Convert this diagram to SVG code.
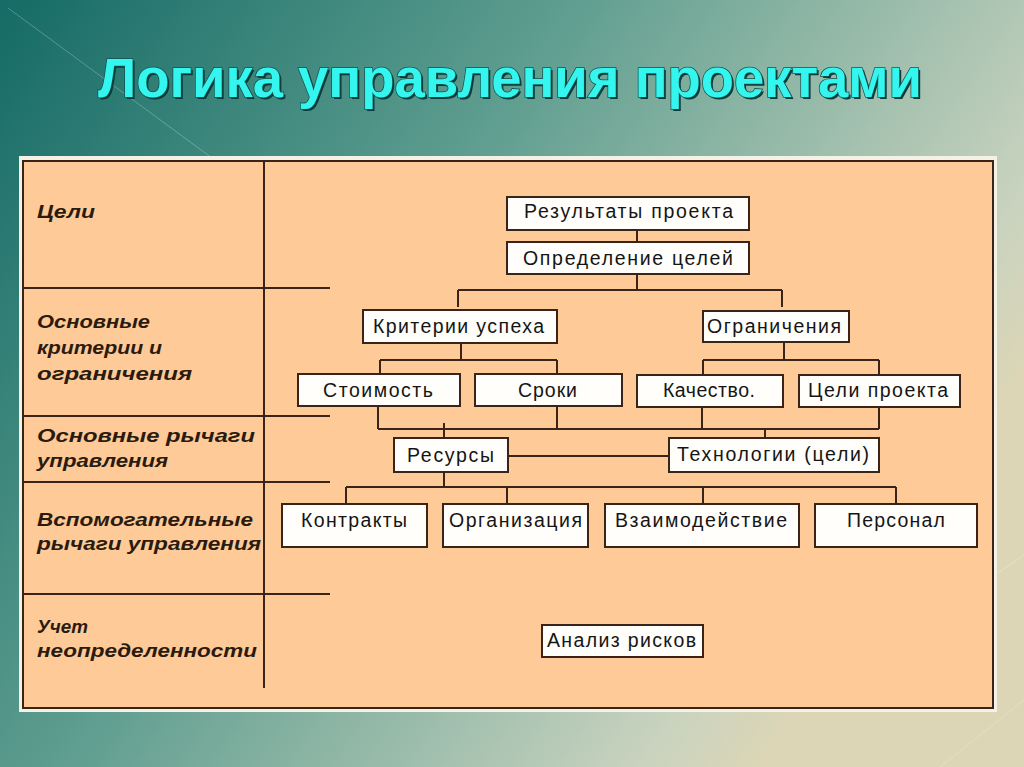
<svg xmlns="http://www.w3.org/2000/svg" width="1024" height="767" viewBox="0 0 1024 767">
<defs>
<linearGradient id="bg" x1="0" y1="0" x2="1" y2="0.5">
<stop offset="0" stop-color="#156b66"/>
<stop offset="0.45" stop-color="#5f9e90"/>
<stop offset="0.9" stop-color="#c9d3bf"/>
<stop offset="1" stop-color="#ddd6b6"/>
</linearGradient>
<style>
.lbl{font-family:"Liberation Sans",Arial,sans-serif;font-weight:bold;font-style:italic;font-size:18px;fill:#2b1a0e}
.box rect{fill:#fffefa;stroke:#3a2418;stroke-width:2}
.box text{font-family:"Liberation Sans",Arial,sans-serif;font-size:19.5px;fill:#151515}
.con path{fill:none;stroke:#3a2418;stroke-width:2}
.grid line{stroke:#3a2418;stroke-width:2}
.title{font-family:"Liberation Sans",Arial,sans-serif;font-weight:bold;font-size:56px}
</style>
</defs>
<rect x="0" y="0" width="1024" height="767" fill="url(#bg)"/>
<line x1="8" y1="8" x2="212" y2="158" stroke="#ffffff" stroke-opacity="0.25" stroke-width="1"/>
<line x1="995" y1="575" x2="1024" y2="555" stroke="#ffffff" stroke-opacity="0.25" stroke-width="1"/>
<line x1="940" y1="767" x2="1024" y2="700" stroke="#ffffff" stroke-opacity="0.2" stroke-width="1"/>

<g id="title">
<text class="title" x="100" y="99" textLength="824" lengthAdjust="spacingAndGlyphs" fill="#0b3a38">Логика управления проектами</text>
<text class="title" x="98" y="97" textLength="824" lengthAdjust="spacingAndGlyphs" fill="#34f6ee" stroke="#0e5552" stroke-width="1.5" paint-order="stroke">Логика управления проектами</text>
</g>

<g id="panel">
<rect x="19" y="156" width="978" height="556" fill="#f4f1e6"/>
<rect x="23" y="161" width="970" height="547" fill="#fdca98" stroke="#3a2418" stroke-width="2"/>
</g>

<g id="grid" class="grid">
<line x1="264" y1="161" x2="264" y2="688"/>
<line x1="23" y1="288" x2="330" y2="288"/>
<line x1="23" y1="416" x2="330" y2="416"/>
<line x1="23" y1="482" x2="330" y2="482"/>
<line x1="23" y1="594" x2="330" y2="594"/>
</g>

<g id="row-labels">
<text class="lbl" x="37" y="218" textLength="58" lengthAdjust="spacingAndGlyphs">Цели</text>
<text class="lbl" x="37" y="328" textLength="113" lengthAdjust="spacingAndGlyphs">Основные</text>
<text class="lbl" x="37" y="354" textLength="125" lengthAdjust="spacingAndGlyphs">критерии и</text>
<text class="lbl" x="37" y="380" textLength="155" lengthAdjust="spacingAndGlyphs">ограничения</text>
<text class="lbl" x="37" y="442" textLength="218" lengthAdjust="spacingAndGlyphs">Основные рычаги</text>
<text class="lbl" x="37" y="467" textLength="131" lengthAdjust="spacingAndGlyphs">управления</text>
<text class="lbl" x="37" y="526" textLength="216" lengthAdjust="spacingAndGlyphs">Вспомогательные</text>
<text class="lbl" x="37" y="550" textLength="224" lengthAdjust="spacingAndGlyphs">рычаги управления</text>
<text class="lbl" x="37" y="633" textLength="51" lengthAdjust="spacingAndGlyphs">Учет</text>
<text class="lbl" x="37" y="657" textLength="220" lengthAdjust="spacingAndGlyphs">неопределенности</text>
</g>

<g id="connectors" class="con">
<path d="M637 230 V242"/>
<path d="M637 273 V290 M458 290 H782 M458 290 V307 M782 290 V307"/>
<path d="M461 343 V360 M380 360 H557 M380 360 V374 M557 360 V374"/>
<path d="M784 342 V360 M703 360 H879 M703 360 V375 M879 360 V375"/>
<path d="M378 392 V429 M557 406 V429 M702 392 V429 M879 407 V429 M378 429 H879"/>
<path d="M444 423 V438 M765 429 V443"/>
<path d="M508 456 H669"/>
<path d="M444 472 V487 M346 487 H896 M346 487 V504 M507 487 V504 M703 487 V504 M896 487 V504"/>
</g>

<g id="n-results" class="box"><rect x="507" y="197" width="242" height="33"/><text x="524" y="218" textLength="209" lengthAdjust="spacing">Результаты проекта</text></g>
<g id="n-goals" class="box"><rect x="507" y="242" width="242" height="32"/><text x="523" y="265" textLength="210" lengthAdjust="spacing">Определение целей</text></g>
<g id="n-criteria" class="box"><rect x="363" y="310" width="194" height="33"/><text x="373" y="333" textLength="171" lengthAdjust="spacing">Критерии успеха</text></g>
<g id="n-limits" class="box"><rect x="703" y="311" width="146" height="31"/><text x="707" y="333" textLength="134" lengthAdjust="spacing">Ограничения</text></g>
<g id="n-cost" class="box"><rect x="298" y="374" width="162" height="32"/><text x="323" y="397" textLength="110" lengthAdjust="spacing">Стоимость</text></g>
<g id="n-terms" class="box"><rect x="475" y="374" width="147" height="32"/><text x="518" y="397" textLength="59" lengthAdjust="spacing">Сроки</text></g>
<g id="n-quality" class="box"><rect x="637" y="375" width="146" height="32"/><text x="663" y="397" textLength="92" lengthAdjust="spacing">Качество.</text></g>
<g id="n-project-goals" class="box"><rect x="799" y="375" width="161" height="32"/><text x="808" y="397" textLength="140" lengthAdjust="spacing">Цели проекта</text></g>
<g id="n-resources" class="box"><rect x="394" y="438" width="114" height="34"/><text x="407" y="462" textLength="87" lengthAdjust="spacing">Ресурсы</text></g>
<g id="n-tech" class="box"><rect x="669" y="438" width="210" height="34"/><text x="677" y="461" textLength="192" lengthAdjust="spacing">Технологии (цели)</text></g>
<g id="n-contracts" class="box"><rect x="282" y="504" width="145" height="43"/><text x="301" y="527" textLength="106" lengthAdjust="spacing">Контракты</text></g>
<g id="n-org" class="box"><rect x="443" y="504" width="145" height="43"/><text x="449" y="527" textLength="133" lengthAdjust="spacing">Организация</text></g>
<g id="n-interaction" class="box"><rect x="605" y="504" width="194" height="43"/><text x="615" y="527" textLength="172" lengthAdjust="spacing">Взаимодействие</text></g>
<g id="n-staff" class="box"><rect x="815" y="504" width="162" height="43"/><text x="847" y="527" textLength="98" lengthAdjust="spacing">Персонал</text></g>
<g id="n-risk" class="box"><rect x="542" y="625" width="161" height="32"/><text x="547" y="647" textLength="149" lengthAdjust="spacing">Анализ рисков</text></g>
</svg>
